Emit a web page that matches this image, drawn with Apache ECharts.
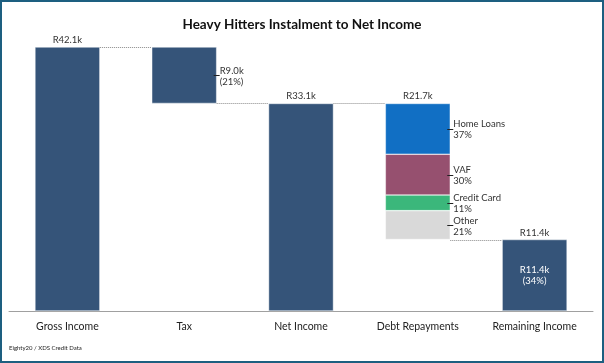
<!DOCTYPE html>
<html>
<head>
<meta charset="utf-8">
<script src="https://cdn.jsdelivr.net/npm/echarts@6/dist/echarts.min.js"></script>
<style>
html,body{margin:0;padding:0;background:#fff;}
#frame{width:604px;height:363px;box-sizing:border-box;border:2px solid #1d5f80;position:relative;overflow:hidden;}
#chart{position:absolute;left:-2px;top:-2px;width:604px;height:363px;}
</style>
</head>
<body>
<div id="frame"><div id="chart"></div></div>
<script>
// ---- data ----
var categories = ['Gross Income', 'Tax', 'Net Income', 'Debt Repayments', 'Remaining Income'];
var grossIncome = 42.1;
var tax = 9.0;
var taxPct = '21%';
var netIncome = 33.1;
var debtNames = ['Other', 'Credit Card', 'VAF', 'Home Loans'];          // bottom -> top
var debtValues = [4.6, 2.5, 6.5, 8.1];                                  // R thousands
var debtPcts = ['21%', '11%', '30%', '37%'];
var remaining = 11.4;
var remainingPct = '34%';
var sourceText = 'Eighty20 / XDS Credit Data';

// ---- derived series ----
var debtTotal = debtValues.reduce(function (a, b) { return a + b; }, 0);
var baseVals = [0, netIncome, 0, remaining, 0];
var mainVals = [grossIncome, tax, netIncome, '-', remaining];
var debtColors = ['#d9d9d9', '#3bb77b', '#96506f', '#116fc4'];
var navy = '#355479';
function fmt(v) { return 'R' + v.toFixed(1) + 'k'; }

var BAR_RATIO = 0.556;
var labelFont = '9.5px Lato';
var textCol = '#333333';

var debtSeries = debtNames.map(function (n, k) {
  var d = ['-', '-', '-', debtValues[k], '-'];
  return {
    name: n, type: 'bar', stack: 'w', barWidth: '55.6%',
    itemStyle: { color: debtColors[k], borderColor: 'rgba(255,255,255,0.7)', borderWidth: 0.6 },
    data: d, silent: true
  };
});

var connectors = [[0, grossIncome], [1, netIncome], [2, netIncome], [3, remaining]];
var topLabels = [[0, grossIncome, fmt(grossIncome)], [2, netIncome, fmt(netIncome)], [3, netIncome, fmt(debtTotal)], [4, remaining, fmt(remaining)]];
var sideLabels = [[1, netIncome + tax / 2, fmt(tax) + '\n(' + taxPct + ')']];
(function () {
  var acc = remaining;
  for (var k = 0; k < debtValues.length; k++) {
    sideLabels.push([3, acc + debtValues[k] / 2, debtNames[k] + '\n' + debtPcts[k]]);
    acc += debtValues[k];
  }
})();
var insideLabels = [[4, remaining / 2, fmt(remaining) + '\n(' + remainingPct + ')']];

function bandInfo(api, i, y) {
  var p = api.coord([i, y]);
  var bw = api.size([1, 0])[0];
  return { x: p[0], y: p[1], bw: bw, barW: bw * BAR_RATIO };
}

var chart = echarts.init(document.getElementById('chart'), null, { renderer: 'canvas' });
chart.setOption({
  animation: false,
  title: {
    text: 'Heavy Hitters Instalment to Net Income',
    left: 'center', top: 13,
    textStyle: { fontFamily: 'Lato', fontSize: 13.5, fontWeight: 'bold', color: '#111' }
  },
  graphic: [{
    type: 'text', left: 9, top: 345,
    style: { text: sourceText, font: '6px Lato', fill: '#222' }
  }],
  grid: { left: 9, right: 11, top: 47, bottom: 52 },
  xAxis: {
    type: 'category', data: categories,
    axisLine: { lineStyle: { color: '#a0a0a0', width: 1 } },
    axisTick: { show: false },
    axisLabel: { fontFamily: 'Lato', fontSize: 10.5, color: '#222', margin: 10 }
  },
  yAxis: {
    type: 'value', min: 0, max: grossIncome, show: false,
    splitLine: { show: false }
  },
  series: [
    { name: 'base', type: 'bar', stack: 'w', barWidth: '55.6%', itemStyle: { color: 'transparent' }, data: baseVals, silent: true },
    { name: 'main', type: 'bar', stack: 'w', barWidth: '55.6%', itemStyle: { color: navy, borderColor: 'rgba(255,255,255,0.7)', borderWidth: 0.6 }, data: mainVals, silent: true }
  ].concat(debtSeries).concat([
    {
      type: 'custom', name: 'connectors', silent: true, z: 5,
      data: connectors,
      renderItem: function (params, api) {
        var c = connectors[params.dataIndex];
        var b = bandInfo(api, c[0], c[1]);
        var y = Math.round(b.y) + 0.5;
        return {
          type: 'line',
          shape: { x1: b.x + b.barW / 2, y1: y, x2: b.x + b.bw - b.barW / 2, y2: y },
          style: { stroke: '#8a8a8a', lineWidth: 1, lineDash: [1, 1] }
        };
      }
    },
    {
      type: 'custom', name: 'topLabels', silent: true, z: 6,
      data: topLabels,
      renderItem: function (params, api) {
        var c = topLabels[params.dataIndex];
        var b = bandInfo(api, c[0], c[1]);
        return {
          type: 'text',
          style: { x: b.x, y: b.y - 2, text: c[2], font: labelFont, fill: textCol, align: 'center', verticalAlign: 'bottom' }
        };
      }
    },
    {
      type: 'custom', name: 'sideLabels', silent: true, z: 6,
      data: sideLabels,
      renderItem: function (params, api) {
        var c = sideLabels[params.dataIndex];
        var b = bandInfo(api, c[0], c[1]);
        var xe = b.x + b.barW / 2;
        var y = Math.round(b.y) + 0.5;
        return {
          type: 'group',
          children: [
            { type: 'line', shape: { x1: xe - 3, y1: y, x2: xe + 3, y2: y }, style: { stroke: '#222', lineWidth: 1 } },
            { type: 'text', style: { x: xe + 3, y: b.y + 1, text: c[2], font: labelFont, lineHeight: 11, fill: textCol, align: 'left', verticalAlign: 'middle' } }
          ]
        };
      }
    },
    {
      type: 'custom', name: 'insideLabels', silent: true, z: 6,
      data: insideLabels,
      renderItem: function (params, api) {
        var c = insideLabels[params.dataIndex];
        var b = bandInfo(api, c[0], c[1]);
        return {
          type: 'text',
          style: { x: b.x, y: b.y, text: c[2], font: labelFont, lineHeight: 11, fill: '#ffffff', align: 'center', verticalAlign: 'middle' }
        };
      }
    }
  ])
});
</script>
</body>
</html>
